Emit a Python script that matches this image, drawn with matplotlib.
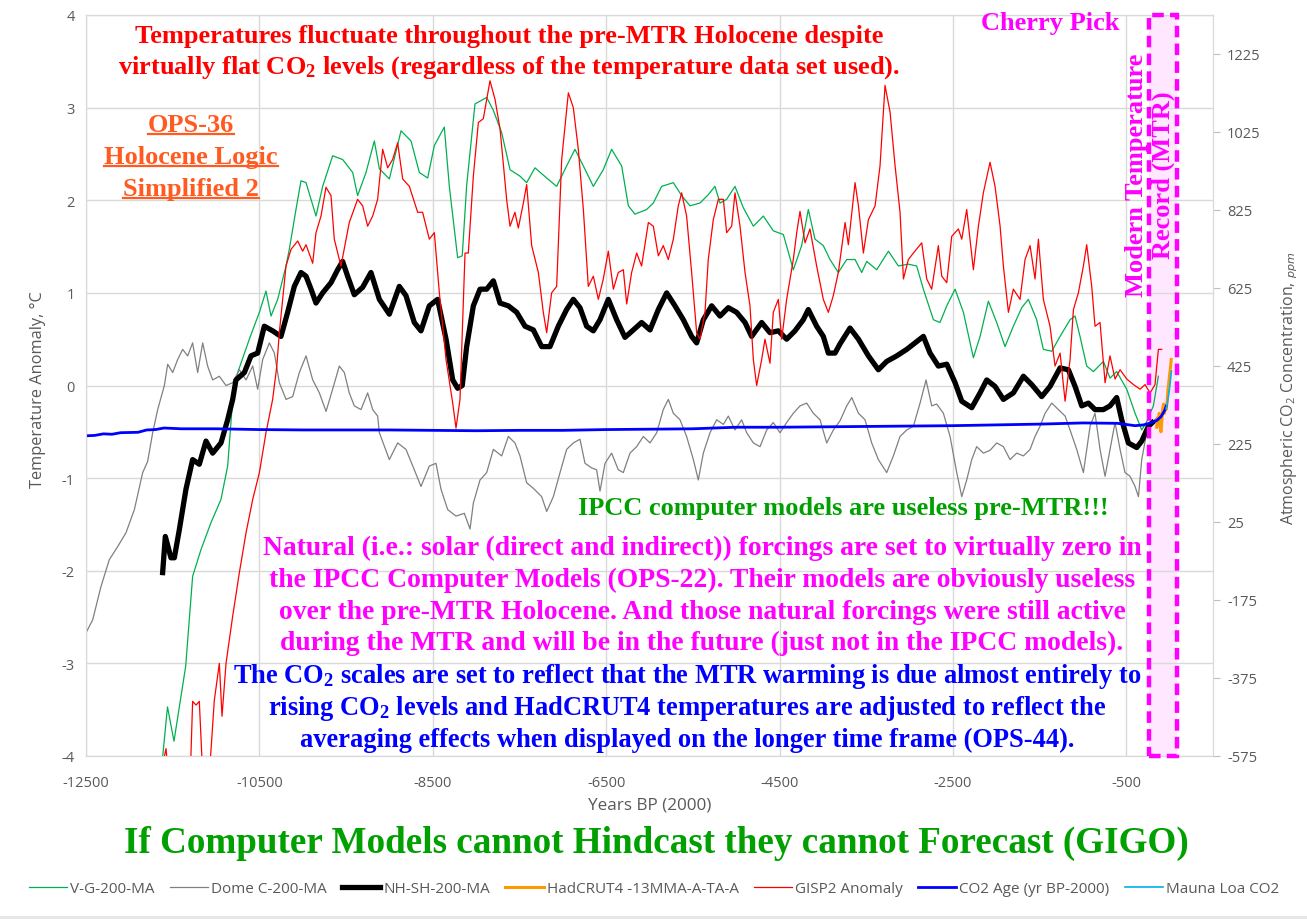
import matplotlib
matplotlib.use('Agg')
import matplotlib.pyplot as plt
from matplotlib.patches import Rectangle
from matplotlib.lines import Line2D

plt.rcParams['font.family'] = ['Open Sans', 'DejaVu Sans']
plt.rcParams['axes.unicode_minus'] = False

# ---- data ----
vg_years = [-11620, -11560, -11485, -11350, -11270, -11173, -11058, -10943, -10866, -10808,
            -10750, -10616, -10500, -10424, -10366, -10289, -10193, -10155, -10078, -10020,
            -9962, -9847, -9770, -9655, -9540, -9424, -9367, -9270, -9174, -9116,
            -9001, -8866, -8751, -8655, -8559, -8482, -8367, -8309, -8213, -8160,
            -8109, -8013, -7878, -7801, -7705, -7609, -7494, -7417, -7321, -7186,
            -7071, -6956, -6860, -6763, -6648, -6533, -6437, -6321, -6244, -6168,
            -6033, -5956, -5860, -5725, -5629, -5533, -5418, -5322, -5245, -5187,
            -5110, -5014, -4918, -4802, -4687, -4572, -4456, -4341, -4245, -4168,
            -4091, -3995, -3918, -3822, -3725, -3629, -3552, -3494, -3379, -3244,
            -3129, -3014, -2918, -2841, -2725, -2649, -2571, -2475, -2379, -2264,
            -2187, -2091, -1995, -1899, -1803, -1706, -1630, -1534, -1457, -1360,
            -1264, -1149, -1091, -1034, -957, -880, -764, -688, -611, -495,
            -399, -322, -265, -188, -130]
vg_temp = [-4.05, -3.47, -3.84, -3.03, -2.06, -1.77, -1.48, -1.23, -0.87, -0.15,
           0.14, 0.50, 0.79, 1.02, 0.75, 0.93, 1.29, 1.47, 1.90, 2.21,
           2.19, 1.83, 2.15, 2.48, 2.44, 2.30, 2.05, 2.30, 2.64, 2.34,
           2.23, 2.75, 2.64, 2.30, 2.24, 2.59, 2.79, 2.15, 1.38, 1.40,
           2.16, 3.04, 3.11, 2.97, 2.73, 2.33, 2.26, 2.19, 2.35, 2.24,
           2.15, 2.37, 2.55, 2.37, 2.15, 2.33, 2.55, 2.37, 1.94, 1.85,
           1.90, 1.97, 2.15, 2.19, 2.05, 1.94, 1.97, 2.06, 2.15, 1.97,
           2.01, 2.15, 1.92, 1.72, 1.83, 1.67, 1.63, 1.25, 1.51, 1.90,
           1.58, 1.51, 1.36, 1.22, 1.36, 1.36, 1.22, 1.34, 1.25, 1.45,
           1.29, 1.31, 1.29, 1.04, 0.71, 0.68, 0.86, 1.04, 0.79, 0.30,
           0.53, 0.91, 0.68, 0.42, 0.64, 0.84, 0.93, 0.71, 0.39, 0.37,
           0.53, 0.71, 0.75, 0.53, 0.21, 0.15, 0.26, 0.08, 0.15, -0.04,
           -0.30, -0.48, -0.39, -0.22, 0.10]

domec_years = [-12500, -12423, -12327, -12231, -12135, -12039, -11942, -11846, -11789, -11731,
               -11673, -11596, -11558, -11500, -11443, -11385, -11327, -11270, -11212, -11154,
               -11097, -11039, -10962, -10885, -10808, -10731, -10654, -10577, -10520, -10462,
               -10385, -10327, -10270, -10193, -10116, -10039, -9962, -9885, -9808, -9731,
               -9655, -9578, -9520, -9463, -9405, -9328, -9251, -9193, -9136, -9116,
               -9001, -8905, -8809, -8713, -8636, -8540, -8463, -8405, -8328, -8232,
               -8136, -8070, -8032, -7955, -7878, -7801, -7705, -7628, -7552, -7494,
               -7417, -7340, -7244, -7186, -7109, -7032, -6956, -6879, -6802, -6744,
               -6667, -6610, -6571, -6513, -6437, -6360, -6302, -6225, -6148, -6071,
               -5994, -5917, -5841, -5783, -5725, -5648, -5572, -5494, -5437, -5379,
               -5302, -5225, -5148, -5091, -5014, -4937, -4879, -4802, -4725, -4648,
               -4572, -4495, -4418, -4341, -4264, -4187, -4110, -4033, -3956, -3879,
               -3802, -3725, -3667, -3590, -3514, -3437, -3360, -3264, -3187, -3110,
               -3033, -2956, -2879, -2810, -2745, -2687, -2610, -2533, -2456, -2398,
               -2341, -2283, -2226, -2149, -2072, -1995, -1918, -1841, -1764, -1687,
               -1610, -1553, -1495, -1437, -1360, -1283, -1206, -1149, -1072, -995,
               -918, -861, -803, -745, -688, -630, -572, -515, -457, -399,
               -360, -322, -265, -207, -150]
domec_temp = [-2.67, -2.53, -2.17, -1.88, -1.74, -1.59, -1.34, -0.94, -0.82, -0.51,
              -0.26, 0.00, 0.23, 0.14, 0.28, 0.39, 0.32, 0.46, 0.14, 0.46,
              0.21, 0.06, 0.10, 0.00, 0.03, 0.17, 0.06, 0.21, -0.04, 0.28,
              0.46, 0.35, 0.03, -0.15, -0.12, 0.14, 0.32, 0.06, -0.08, -0.28,
              -0.04, 0.21, 0.14, -0.08, -0.22, -0.26, -0.08, -0.26, -0.33, -0.51,
              -0.80, -0.62, -0.69, -0.91, -1.09, -0.87, -0.84, -1.12, -1.34, -1.41,
              -1.38, -1.55, -1.27, -1.02, -0.94, -0.69, -0.76, -0.55, -0.62, -0.76,
              -1.05, -1.11, -1.20, -1.36, -1.20, -0.94, -0.69, -0.62, -0.58, -0.84,
              -0.89, -0.91, -1.14, -0.84, -0.73, -0.91, -0.94, -0.73, -0.66, -0.55,
              -0.62, -0.51, -0.26, -0.15, -0.30, -0.37, -0.55, -0.80, -1.02, -0.73,
              -0.51, -0.37, -0.42, -0.33, -0.48, -0.37, -0.51, -0.62, -0.66, -0.48,
              -0.40, -0.51, -0.40, -0.30, -0.22, -0.19, -0.30, -0.37, -0.62, -0.48,
              -0.38, -0.22, -0.13, -0.30, -0.37, -0.62, -0.80, -0.94, -0.76, -0.55,
              -0.48, -0.44, -0.19, 0.06, -0.22, -0.20, -0.30, -0.55, -0.94, -1.20,
              -1.02, -0.80, -0.66, -0.73, -0.70, -0.62, -0.66, -0.80, -0.73, -0.76,
              -0.69, -0.55, -0.44, -0.30, -0.19, -0.26, -0.33, -0.48, -0.69, -0.94,
              -0.44, -0.30, -0.69, -0.98, -0.69, -0.40, -0.69, -0.94, -0.98, -1.09,
              -1.20, -0.80, -0.51, -0.40, -0.35]

nhsh_years = [-11616, -11585, -11520, -11481, -11424, -11347, -11270, -11193, -11116, -11039,
              -10943, -10866, -10808, -10770, -10673, -10597, -10520, -10443, -10347, -10251,
              -10174, -10097, -10020, -9962, -9904, -9847, -9770, -9674, -9597, -9540,
              -9482, -9405, -9309, -9213, -9116, -9001, -8886, -8809, -8713, -8636,
              -8540, -8444, -8347, -8270, -8213, -8160, -8109, -8032, -7955, -7878,
              -7801, -7724, -7628, -7532, -7436, -7340, -7244, -7148, -7052, -6956,
              -6879, -6802, -6725, -6648, -6571, -6475, -6379, -6283, -6186, -6091,
              -5994, -5898, -5802, -5706, -5610, -5514, -5456, -5379, -5283, -5187,
              -5091, -4995, -4898, -4822, -4706, -4610, -4514, -4418, -4322, -4226,
              -4168, -4072, -3995, -3937, -3860, -3802, -3687, -3590, -3475, -3360,
              -3264, -3148, -3033, -2937, -2841, -2764, -2668, -2571, -2475, -2398,
              -2283, -2187, -2110, -2014, -1918, -1803, -1687, -1591, -1476, -1380,
              -1264, -1168, -1091, -1014, -937, -861, -764, -688, -611, -553,
              -476, -380, -322, -245, -200]
nhsh_temp = [-2.02, -1.63, -1.86, -1.86, -1.56, -1.12, -0.80, -0.85, -0.60, -0.73,
             -0.62, -0.37, -0.15, 0.06, 0.14, 0.32, 0.35, 0.64, 0.59, 0.53,
             0.79, 1.07, 1.22, 1.18, 1.04, 0.89, 1.00, 1.11, 1.25, 1.34,
             1.18, 0.98, 1.06, 1.22, 0.93, 0.77, 1.07, 0.97, 0.68, 0.59,
             0.86, 0.93, 0.50, 0.06, -0.03, 0.00, 0.42, 0.86, 1.04, 1.04,
             1.13, 0.89, 0.86, 0.79, 0.64, 0.60, 0.42, 0.42, 0.64, 0.82,
             0.93, 0.84, 0.64, 0.59, 0.71, 0.93, 0.71, 0.52, 0.60, 0.68,
             0.60, 0.82, 1.00, 0.86, 0.71, 0.53, 0.46, 0.71, 0.86, 0.75,
             0.84, 0.79, 0.68, 0.53, 0.68, 0.57, 0.59, 0.50, 0.59, 0.71,
             0.82, 0.64, 0.53, 0.35, 0.35, 0.45, 0.62, 0.50, 0.32, 0.17,
             0.26, 0.32, 0.39, 0.46, 0.53, 0.35, 0.21, 0.23, 0.03, -0.17,
             -0.24, -0.08, 0.06, -0.01, -0.15, -0.08, 0.10, 0.01, -0.12, -0.01,
             0.19, 0.17, -0.01, -0.22, -0.19, -0.26, -0.26, -0.22, -0.13, -0.37,
             -0.62, -0.67, -0.60, -0.44, -0.40]

had_years = [-150, -140, -130, -120, -110, -100, -90, -80, -70, -60,
             -50, -40, -30, -20, -10, 0, 10, 18]
had_temp = [-0.45, -0.35, -0.42, -0.30, -0.45, -0.50, -0.38, -0.25, -0.20, -0.30,
            -0.22, -0.26, -0.18, -0.05, 0.03, 0.12, 0.20, 0.28]

gisp_years = [-11640, -11577, -11540, -11300, -11270, -11230, -11193, -11154, -11077, -11020,
              -10962, -10931, -10885, -10808, -10731, -10654, -10577, -10500, -10424, -10347,
              -10300, -10270, -10193, -10135, -10058, -10001, -9962, -9885, -9847, -9789,
              -9732, -9674, -9636, -9559, -9463, -9367, -9309, -9251, -9193, -9136,
              -9078, -9020, -8963, -8905, -8847, -8770, -8674, -8617, -8540, -8482,
              -8424, -8347, -8270, -8232, -8186, -8128, -8090, -8032, -7974, -7917,
              -7878, -7840, -7782, -7724, -7648, -7609, -7552, -7513, -7455, -7417,
              -7359, -7282, -7225, -7186, -7129, -7071, -7013, -6936, -6879, -6821,
              -6763, -6706, -6648, -6590, -6533, -6475, -6417, -6360, -6302, -6263,
              -6206, -6148, -6091, -6013, -5956, -5898, -5841, -5783, -5725, -5668,
              -5629, -5572, -5514, -5456, -5418, -5360, -5322, -5264, -5206, -5148,
              -5110, -5052, -5014, -4956, -4898, -4841, -4802, -4764, -4706, -4668,
              -4610, -4572, -4514, -4475, -4418, -4341, -4302, -4264, -4206, -4149,
              -4072, -3995, -3937, -3880, -3822, -3744, -3706, -3629, -3590, -3533,
              -3475, -3398, -3341, -3283, -3225, -3167, -3110, -3071, -3014, -2956,
              -2860, -2802, -2745, -2668, -2629, -2571, -2514, -2437, -2398, -2341,
              -2264, -2206, -2149, -2072, -2014, -1956, -1918, -1860, -1803, -1726,
              -1668, -1610, -1553, -1514, -1457, -1380, -1322, -1264, -1206, -1149,
              -1110, -1053, -995, -957, -899, -861, -803, -745, -688, -630,
              -572, -495, -418, -341, -284, -226, -169, -130, -92]
gisp_temp = [-4.20, -3.92, -4.30, -4.30, -3.41, -3.45, -3.41, -4.20, -4.20, -3.40,
             -3.00, -3.57, -3.00, -2.49, -2.02, -1.59, -1.23, -0.94, -0.51, -0.15,
             0.20, 0.57, 1.29, 1.47, 1.56, 1.45, 1.52, 1.32, 1.65, 1.83,
             2.14, 2.05, 1.58, 1.29, 1.76, 2.01, 1.94, 1.72, 1.83, 2.01,
             2.55, 2.35, 2.44, 2.62, 2.23, 2.15, 1.87, 1.87, 1.58, 1.65,
             1.00, 0.28, -0.19, -0.46, -0.15, 1.43, 1.43, 2.26, 2.84, 2.88,
             3.09, 3.29, 3.09, 2.77, 2.01, 1.72, 1.87, 1.70, 1.97, 2.17,
             1.51, 1.22, 0.79, 0.57, 1.00, 1.07, 2.44, 3.16, 3.00, 2.55,
             1.90, 1.07, 1.18, 0.93, 1.15, 1.45, 1.04, 1.22, 1.25, 0.88,
             1.22, 1.43, 1.29, 1.76, 1.72, 1.40, 1.51, 1.36, 1.58, 1.94,
             2.08, 1.83, 1.22, 0.57, 0.50, 0.79, 1.36, 1.79, 2.01, 2.01,
             1.65, 1.72, 2.08, 1.72, 1.22, 0.86, 0.28, 0.00, 0.28, 0.50,
             0.24, 0.79, 0.93, 0.50, 0.93, 1.36, 1.65, 1.88, 1.54, 1.69,
             1.29, 0.93, 0.79, 0.97, 1.22, 1.76, 1.52, 2.19, 1.94, 1.43,
             1.79, 1.94, 2.37, 3.24, 2.95, 2.37, 1.87, 1.15, 1.36, 1.43,
             1.54, 1.15, 1.04, 1.51, 1.18, 1.11, 1.61, 1.69, 1.58, 1.90,
             1.25, 1.72, 2.08, 2.41, 2.15, 1.72, 1.29, 0.79, 1.04, 0.93,
             1.36, 1.51, 1.15, 1.58, 0.93, 0.64, 0.21, 0.35, -0.17, 0.28,
             0.82, 1.00, 1.29, 1.52, 1.07, 0.64, 0.68, 0.03, 0.32, 0.07,
             0.17, 0.07, 0.01, -0.04, 0.01, -0.08, 0.01, 0.39, 0.39]

co2_years = [-12500, -12400, -12300, -12200, -12100, -11900, -11800, -11700, -11600, -11400,
             -11000, -10500, -10000, -9000, -8000, -7500, -7000, -6500, -6000, -5500,
             -5000, -4500, -4000, -3500, -3000, -2500, -2000, -1500, -1000, -600,
             -400, -300, -220, -150, -100, -60, -40]
co2_ppm = [246, 247, 251, 250, 254, 255, 261, 262, 266, 264,
           264, 262, 261, 261, 259, 260, 260, 262, 263, 264,
           268, 268, 269, 270, 271, 272, 274, 276, 279, 278,
           272, 274, 279, 285, 295, 310, 322]

ml_years = [-42, -35, -30, -25, -20, -15, -10, -5, 0, 5, 10, 15, 20]
ml_ppm = [315, 321, 326, 331, 339, 346, 354, 361, 370, 380, 390, 401, 412]

mtr_start, mtr_end = -238, 80
x_ticks = list(range(-12500, 501, 2000))
temp_ticks = list(range(-4, 5))
co2_ticks = list(range(-575, 1226, 200))

W, H = 1307, 920
fig = plt.figure(figsize=(W / 100, H / 100), dpi=100)
ax = fig.add_axes([86 / W, 1 - 757 / H, (1213 - 86) / W, (757 - 16) / H])
ax2 = ax.twinx()

grid_c = '#d9d9d9'
txt_c = '#595959'

# MTR shaded box
ax.axvspan(mtr_start, mtr_end, color='#ffe8ff', zorder=0.5, lw=0)
ax2.add_patch(Rectangle((mtr_start, 0), mtr_end - mtr_start, 1,
                        transform=ax2.get_xaxis_transform(), fill=False,
                        edgecolor='#ff00ff', lw=3.2, ls=(0, (2.6, 1.4)), zorder=10,
                        clip_on=False))

l1, = ax.plot(vg_years, vg_temp, color='#00b050', lw=0.9, label='V-G-200-MA')
l2, = ax.plot(domec_years, domec_temp, color='#808080', lw=0.9, label='Dome C-200-MA')
l3, = ax.plot(nhsh_years, nhsh_temp, color='black', lw=3.8, label='NH-SH-200-MA')
l4, = ax.plot(had_years, had_temp, color='#ff9900', lw=2.2, label='HadCRUT4 -13MMA-A-TA-A')
l5, = ax.plot(gisp_years, gisp_temp, color='#ff0000', lw=0.9, label='GISP2 Anomaly')
l6, = ax2.plot(co2_years, co2_ppm, color='#0000ff', lw=2.0, label='CO2 Age (yr BP-2000)')
l7, = ax2.plot(ml_years, ml_ppm, color='#00b0f0', lw=1.2, label='Mauna Loa CO2')

ax.set_xlim(-12500, 500)
ax.set_ylim(-4, 4)
ax.set_xticks(x_ticks)
ax.set_yticks(temp_ticks)
ax2.set_ylim(-575, 1325)
ax2.set_yticks(co2_ticks)

ax.grid(True, color=grid_c, lw=1)
ax.set_axisbelow(True)
for a in (ax, ax2):
    for s in a.spines.values():
        s.set_color(grid_c)
ax.tick_params(axis='both', length=0, colors=txt_c, labelsize=10.5)
ax.tick_params(axis='x', pad=14)
ax.tick_params(axis='y', pad=8)
ax2.tick_params(axis='y', length=5, color='#bfbfbf', colors=txt_c, labelsize=10.5, pad=5)
ax2.tick_params(axis='y', color='#bfbfbf')

fig.text(38 / W, 1 - 390 / H, 'Temperature Anomaly, °C', rotation=90, ha='center', va='center',
         color=txt_c, fontsize=11.8)
fig.text(1290 / W, 1 - 388 / H, r'Atmospheric CO$\mathregular{_2}$ Concentration, $\mathit{_{ppm}}$',
         rotation=90, ha='center', va='center', color=txt_c, fontsize=11.5)
fig.text(650 / W, 1 - 806 / H, 'Years BP (2000)', ha='center', va='center', color=txt_c, fontsize=12.3)

serif = ['Liberation Serif', 'DejaVu Serif']


def bold_lines(lines, cx, baselines, color, size):
    out = []
    for s, b in zip(lines, baselines):
        out.append(fig.text(cx / W, 1 - b / H, s, ha='center', va='baseline', color=color,
                            fontsize=size, fontweight='bold', family=serif))
    return out


bold_lines(['Temperatures fluctuate throughout the pre-MTR Holocene despite',
            r'virtually flat CO$\mathregular{_2}$ levels (regardless of the temperature data set used).'],
           509, [43, 74], '#ff0000', 19)
ops = bold_lines(['OPS-36', 'Holocene Logic', 'Simplified 2'], 191, [132, 164, 196], '#ff5a1f', 19)
bold_lines(['Cherry Pick'], 1050, [30], '#ff00ff', 19)
fig.text(1150 / W, 1 - 175 / H, 'Modern Temperature\nRecord (MTR)', rotation=90, ha='center',
         va='center', multialignment='center', linespacing=1.2, color='#ff00ff', fontsize=19,
         fontweight='bold', family=serif)
bold_lines(['IPCC computer models are useless pre-MTR!!!'], 843, [515], '#00a000', 19)
bold_lines(['Natural (i.e.: solar (direct and indirect)) forcings are set to virtually zero in',
            'the IPCC Computer Models (OPS-22). Their models are obviously useless',
            'over the pre-MTR Holocene. And those natural forcings were still active',
            'during the MTR and will be in the future (just not in the IPCC models).'],
           702, [555, 587, 619, 650], '#ff00ff', 19.9)
bold_lines([r'The CO$\mathregular{_2}$ scales are set to reflect that the MTR warming is due almost entirely to',
            r'rising CO$\mathregular{_2}$ levels and HadCRUT4 temperatures are adjusted to reflect the',
            'averaging effects when displayed on the longer time frame (OPS-44).'],
           687, [683, 715, 747], '#0000ff', 19.1)
bold_lines(['If Computer Models cannot Hindcast they cannot Forecast (GIGO)'], 656, [853], '#00a000', 26.7)

fig.legend(handles=[l1, l2, l3, l4, l5, l6, l7], loc='center', bbox_to_anchor=(654 / W, 1 - 890 / H),
           ncol=7, frameon=False, fontsize=11, handlelength=2.5, handletextpad=0.2,
           columnspacing=1.0, labelcolor=txt_c)
fig.patches.append(Rectangle((0, 0), 1, 3 / H, transform=fig.transFigure, color='#e6e6e6', lw=0))

# underline the OPS-36 block
fig.canvas.draw()
r = fig.canvas.get_renderer()
for t in ops:
    bb = t.get_window_extent(r)
    yb = t.get_position()[1] - 3 / H
    fig.add_artist(Line2D([bb.x0 / W, bb.x1 / W], [yb, yb], transform=fig.transFigure,
                          color='#ff5a1f', lw=1.6))

fig.savefig('out.png', dpi=100)
